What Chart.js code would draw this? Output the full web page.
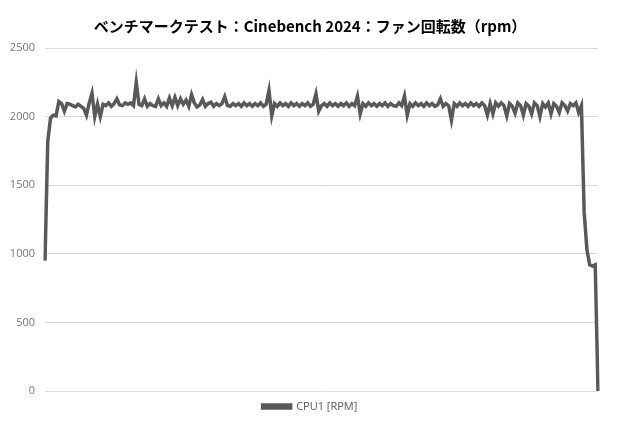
<!DOCTYPE html>
<html>
<head>
<meta charset="utf-8">
<script src="https://cdn.jsdelivr.net/npm/chart.js@4.4.1/dist/chart.umd.min.js"></script>
<style>
  body { margin: 0; background: #fff; }
</style>
</head>
<body>
<canvas id="myChart" width="620" height="430"></canvas>
<script>
// fan speed samples over the benchmark run
var rpm = [
  950, 1820, 1990, 2010, 2005, 2110, 2095, 2040, 2095, 2090,
  2080, 2070, 2090, 2075, 2060, 2010, 2100, 2170, 2000, 2090,
  2000, 2090, 2080, 2100, 2075, 2095, 2130, 2085, 2080, 2100,
  2090, 2100, 2080, 2250, 2090, 2080, 2130, 2075, 2095, 2080,
  2075, 2130, 2080, 2100, 2075, 2135, 2080, 2140, 2080, 2130,
  2090, 2120, 2075, 2160, 2100, 2070, 2085, 2125, 2075, 2095,
  2105, 2075, 2095, 2080, 2095, 2145, 2080, 2075, 2095, 2080,
  2095, 2075, 2100, 2080, 2095, 2075, 2095, 2080, 2100, 2075,
  2090, 2190, 2005, 2095, 2075, 2100, 2080, 2095, 2075, 2100,
  2080, 2095, 2075, 2095, 2080, 2100, 2075, 2090, 2165, 2040,
  2080, 2095, 2075, 2100, 2080, 2095, 2075, 2095, 2080, 2100,
  2075, 2095, 2080, 2150, 2020, 2095, 2075, 2100, 2080, 2095,
  2075, 2095, 2080, 2100, 2075, 2095, 2080, 2075, 2100, 2080,
  2150, 2010, 2095, 2075, 2100, 2080, 2095, 2075, 2100, 2080,
  2095, 2075, 2085, 2130, 2075, 2095, 2080, 1975, 2095, 2075,
  2100, 2080, 2095, 2075, 2100, 2080, 2095, 2075, 2100, 2080,
  2010, 2095, 2020, 2100, 2075, 2100, 2080, 2005, 2095, 2075,
  2025, 2100, 2080, 2010, 2095, 2075, 2020, 2100, 2080, 2000,
  2095, 2070, 2100, 2020, 2095, 2075, 2030, 2100, 2080, 2040,
  2095, 2080, 2100, 2030, 2080, 1300, 1030, 920, 910, 920,
  0
];
var samples = rpm.map(function (v, i) { return i + 1; });
var yTicks = [0, 500, 1000, 1500, 2000, 2500];

var ctx = document.getElementById('myChart').getContext('2d');

var myChart = new Chart(ctx, {
    type: 'line',
    data: {
        labels: samples,
        datasets: [{
            label: 'CPU1 [RPM]',
            data: rpm,
            borderColor: '#595959',
            backgroundColor: '#595959',
            borderWidth: 3.5,
            pointRadius: 0,
            tension: 0,
            fill: false
        }]
    },
    options: {
        responsive: false,
        animation: false,
        layout: {
            padding: { left: 0, right: 0, top: 0, bottom: 8 }
        },
        plugins: {
            title: {
                display: true,
                text: 'ベンチマークテスト：Cinebench 2024：ファン回転数（rpm）',
                color: '#000000',
                font: { family: '"Noto Sans CJK JP", sans-serif', size: 15, weight: 'bold' },
                padding: { top: 17, bottom: 13 }
            },
            legend: {
                position: 'bottom',
                labels: {
                    color: '#595959',
                    font: { family: '"Open Sans", sans-serif', size: 11 },
                    boxWidth: 28,
                    boxHeight: 3,
                    padding: 10
                }
            },
            tooltip: { enabled: false }
        },
        scales: {
            x: {
                display: false,
                offset: false
            },
            y: {
                min: 0,
                max: 2500,
                afterFit: function (scale) { scale.width = 45; },
                afterBuildTicks: function (scale) {
                    scale.ticks = yTicks.map(function (v) { return { value: v }; });
                },
                ticks: {
                    color: '#767676',
                    font: { family: '"Open Sans", sans-serif', size: 11 },
                    padding: 10,
                    callback: function (v) { return String(v); }
                },
                grid: {
                    color: '#d9d9d9',
                    lineWidth: 1,
                    drawTicks: false
                },
                border: { display: false }
            },
            // empty right gutter so the title and legend centre on the page
            gutter: {
                type: 'linear',
                position: 'right',
                min: 0,
                max: 2500,
                afterFit: function (scale) { scale.width = 22; },
                ticks: { display: false },
                grid: { display: false, drawTicks: false },
                border: { display: false }
            }
        }
    }
});
</script>
</body>
</html>
